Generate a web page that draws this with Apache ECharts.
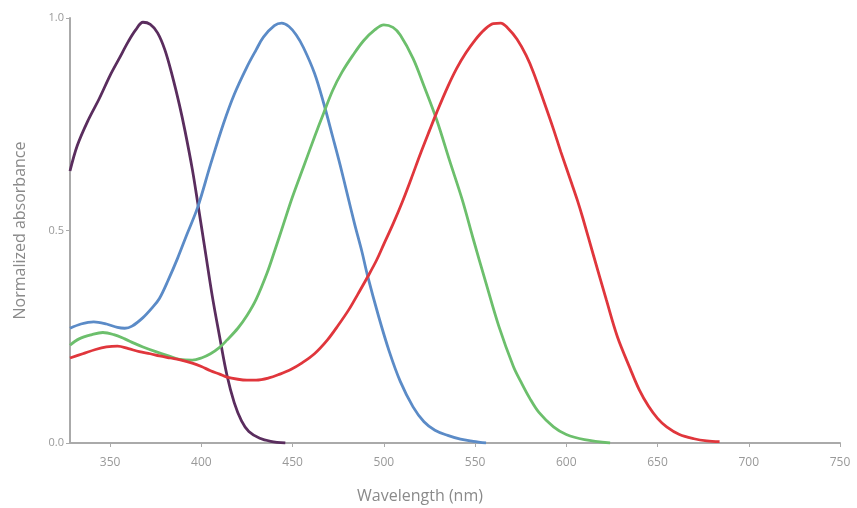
<!DOCTYPE html>
<html>
<head>
<meta charset="utf-8">
<script src="https://cdn.jsdelivr.net/npm/echarts@6/dist/echarts.min.js"></script>
<style>
  html, body { margin: 0; padding: 0; background: #fff; }
  #chart { width: 857px; height: 508px; }
</style>
</head>
<body>
<div id="chart"></div>
<script>
// wavelength (nm), normalized absorbance
var violet = [
  [328, 0.64], [332, 0.70], [338, 0.76], [344, 0.81], [350, 0.865], [355, 0.905],
  [360, 0.945], [364, 0.972], [368, 0.99], [372, 0.985], [376, 0.965], [380, 0.925],
  [384, 0.865], [388, 0.795], [391, 0.735], [395, 0.645], [398, 0.565], [402, 0.455],
  [406, 0.345], [410, 0.25], [414, 0.16], [418, 0.095], [422, 0.052], [426, 0.027],
  [432, 0.011], [438, 0.004], [446, 0]
];
var blue = [
  [328, 0.27], [334, 0.28], [341, 0.285], [348, 0.28], [354, 0.272], [358, 0.27],
  [362, 0.275], [368, 0.295], [373, 0.318], [377, 0.34], [382, 0.385], [387, 0.435],
  [392, 0.49], [398, 0.555], [405, 0.655], [412, 0.75], [418, 0.82], [425, 0.885],
  [430, 0.925], [434, 0.955], [440, 0.982], [444, 0.988], [448, 0.98], [452, 0.96],
  [456, 0.93], [462, 0.87], [467, 0.8], [472, 0.72], [476, 0.655], [480, 0.585],
  [484, 0.515], [488, 0.45], [491, 0.395], [497, 0.3], [503, 0.215], [509, 0.145],
  [516, 0.085], [522, 0.05], [528, 0.03], [535, 0.018], [542, 0.009], [549, 0.004],
  [556, 0]
];
var green = [
  [328, 0.23], [333, 0.245], [340, 0.255], [346, 0.26], [352, 0.255], [358, 0.245],
  [363, 0.235], [368, 0.226], [375, 0.215], [382, 0.205], [388, 0.197], [395, 0.195],
  [400, 0.2], [405, 0.21], [410, 0.225], [414, 0.242], [420, 0.27], [425, 0.3],
  [430, 0.338], [436, 0.4], [440, 0.45], [445, 0.515], [450, 0.58], [456, 0.65],
  [462, 0.72], [467, 0.776], [472, 0.83], [477, 0.872], [483, 0.912], [489, 0.947],
  [495, 0.972], [500, 0.984], [505, 0.978], [509, 0.96], [516, 0.905], [522, 0.84],
  [529, 0.76], [536, 0.665], [543, 0.572], [549, 0.48], [556, 0.376], [563, 0.275],
  [571, 0.18], [575, 0.145], [580, 0.105], [585, 0.072], [593, 0.038], [600, 0.02],
  [610, 0.008], [624, 0]
];
var red = [
  [328, 0.2], [335, 0.21], [342, 0.22], [348, 0.226], [354, 0.228], [360, 0.222],
  [366, 0.215], [372, 0.21], [377, 0.205], [383, 0.2], [389, 0.195], [395, 0.188],
  [400, 0.18], [405, 0.17], [410, 0.162], [414, 0.155], [420, 0.15], [425, 0.148],
  [430, 0.148], [437, 0.153], [443, 0.162], [449, 0.173], [455, 0.188], [462, 0.21],
  [469, 0.242], [475, 0.277], [481, 0.315], [486, 0.352], [491, 0.39], [496, 0.43],
  [500, 0.468], [505, 0.515], [510, 0.566], [515, 0.622], [520, 0.68], [525, 0.735],
  [529, 0.778], [535, 0.838], [540, 0.882], [545, 0.918], [550, 0.948], [555, 0.972],
  [560, 0.987], [564, 0.988], [568, 0.976], [573, 0.95], [578, 0.912], [582, 0.872],
  [588, 0.8], [593, 0.738], [597, 0.685], [603, 0.61], [606, 0.572], [609, 0.53],
  [615, 0.44], [622, 0.336], [628, 0.25], [635, 0.175], [640, 0.125], [645, 0.087],
  [650, 0.058], [655, 0.038], [662, 0.02], [670, 0.01], [677, 0.005], [684, 0.003]
];
var xTicks = [350, 400, 450, 500, 550, 600, 650, 700, 750];
var yTicks = [0, 0.5, 1];

var chart = echarts.init(document.getElementById("chart"));

function line(data, color) {
  return {
    type: "line",
    data: data,
    smooth: 0.35,
    showSymbol: false,
    silent: true,
    lineStyle: { color: color, width: 2.8 }
  };
}

chart.setOption({
  animation: false,
  textStyle: { fontFamily: "Open Sans" },
  grid: { left: 70, right: 17, top: 18, bottom: 65, outerBoundsMode: "none" },
  xAxis: {
    type: "value",
    min: 328,
    max: 750,
    name: "Wavelength (nm)",
    nameLocation: "middle",
    nameGap: 45,
    nameTextStyle: { color: "#8a8a8a", fontSize: 16, padding: [0, 70, 0, 0] },
    axisLine: { lineStyle: { color: "#aaa", width: 2 } },
    axisTick: { show: true, length: 4, customValues: xTicks, lineStyle: { color: "#aaa" } },
    axisLabel: { color: "#999", fontSize: 12, margin: 14, customValues: xTicks },
    splitLine: { show: false }
  },
  yAxis: {
    type: "value",
    min: 0,
    max: 1,
    name: "Normalized absorbance",
    nameLocation: "middle",
    nameGap: 42,
    nameTextStyle: { color: "#8a8a8a", fontSize: 16 },
    axisLine: { show: true, lineStyle: { color: "#aaa", width: 2 } },
    axisTick: { show: true, length: 4, customValues: yTicks, lineStyle: { color: "#aaa" } },
    axisLabel: {
      color: "#999",
      fontSize: 11,
      margin: 6,
      customValues: yTicks,
      formatter: function (v) { return v.toFixed(1); }
    },
    splitLine: { show: false }
  },
  series: [
    line(violet, "#5a2d5e"),
    line(blue, "#5b8bc7"),
    line(green, "#6cbf6c"),
    line(red, "#e0363c")
  ]
});
</script>
</body>
</html>
